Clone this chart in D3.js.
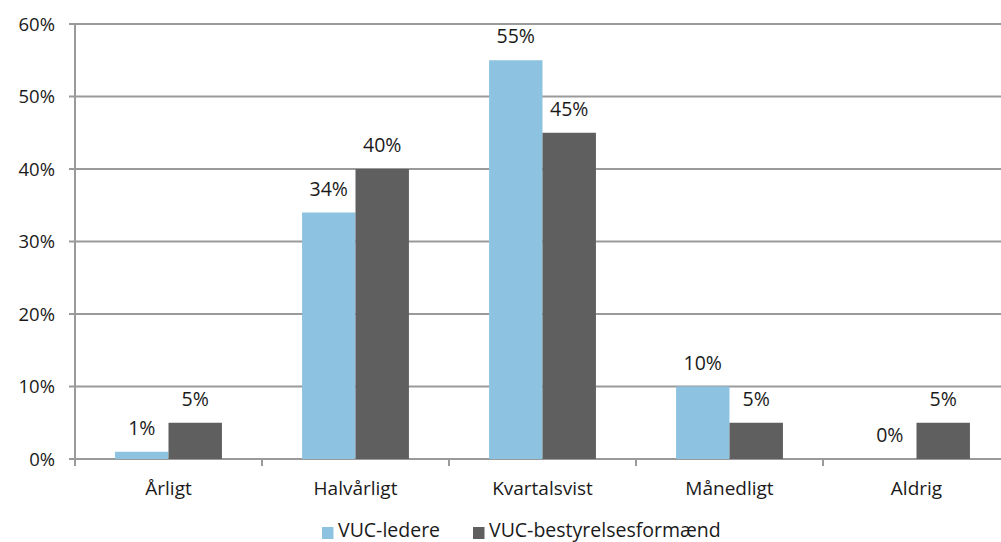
<!DOCTYPE html>
<html><head><meta charset="utf-8">
<script src="https://cdn.jsdelivr.net/npm/d3@7"></script>
<style>body{margin:0;background:#fff;overflow:hidden}svg{display:block}text{font-family:"Open Sans","Noto Sans",sans-serif;fill:#1a1a1a}</style>
</head><body><svg id="c" width="1001" height="542"></svg>
<script>
const categories = ["Årligt","Halvårligt","Kvartalsvist","Månedligt","Aldrig"];
const seriesNames = ["VUC-ledere","VUC-bestyrelsesformænd"];
const ledere = [1,34,55,10,0];
const formaend = [5,40,45,5,5];
const yTicks = [0,10,20,30,40,50,60];
const colors = ["#8DC3E1","#5F5F5F"];

const svg = d3.select("#c");
const mLeft = 75, mRight = 1010, mTop = 24, mBottom = 459;
const x = d3.scaleBand().domain(categories).range([mLeft,mRight]).paddingInner(0).paddingOuter(0);
const y = d3.scaleLinear().domain([0,60]).range([mBottom,mTop]);
const inner = d3.scaleBand().domain(seriesNames).range([0,x.bandwidth()]).paddingInner(0).paddingOuter(0.75);

// gridlines
svg.append("g").selectAll("line").data(yTicks).join("line")
  .attr("x1",mLeft-6).attr("x2",mRight).attr("y1",d=>y(d)).attr("y2",d=>y(d))
  .attr("stroke","#9a9a9a").attr("stroke-width",2);
// y labels
svg.append("g").selectAll("text").data(yTicks).join("text")
  .attr("x",55).attr("y",d=>y(d)+6.5).attr("text-anchor","end").attr("font-size",18.5).text(d=>d+"%");
// y axis
svg.append("line").attr("x1",mLeft).attr("x2",mLeft).attr("y1",mTop).attr("y2",mBottom+7).attr("stroke","#9a9a9a").attr("stroke-width",2);
// x ticks
svg.append("g").selectAll("line").data(categories.slice(1)).join("line")
  .attr("x1",d=>x(d)).attr("x2",d=>x(d)).attr("y1",mBottom).attr("y2",mBottom+7).attr("stroke","#9a9a9a").attr("stroke-width",2);

const data = categories.map((c,i)=>({c, vals:[ledere[i],formaend[i]]}));
const g = svg.append("g").selectAll("g").data(data).join("g").attr("transform",d=>`translate(${x(d.c)},0)`);
g.selectAll("rect").data(d=>d.vals.map((v,j)=>({v,s:seriesNames[j],j}))).join("rect")
  .attr("x",d=>inner(d.s)).attr("width",inner.bandwidth())
  .attr("y",d=>y(d.v)).attr("height",d=>mBottom-y(d.v)).attr("fill",d=>colors[d.j]);
g.selectAll("text").data(d=>d.vals.map((v,j)=>({v,s:seriesNames[j],j}))).join("text")
  .attr("x",d=>inner(d.s)+inner.bandwidth()/2).attr("y",d=>y(d.v)-17)
  .attr("text-anchor","middle").attr("font-size",19.5).text(d=>d.v+"%");
// x labels
svg.append("g").selectAll("text").data(categories).join("text")
  .attr("x",d=>x(d)+x.bandwidth()/2).attr("y",495).attr("text-anchor","middle").attr("font-size",19).text(d=>d);
// legend
const lg = svg.append("g");
const lx = [322,473];
seriesNames.forEach((s,i)=>{
  lg.append("rect").attr("x",lx[i]).attr("y",527).attr("width",11.5).attr("height",12).attr("fill",colors[i]);
  lg.append("text").attr("x",lx[i]+16).attr("y",536.5).attr("font-size",19.5).text(s);
});
</script></body></html>
